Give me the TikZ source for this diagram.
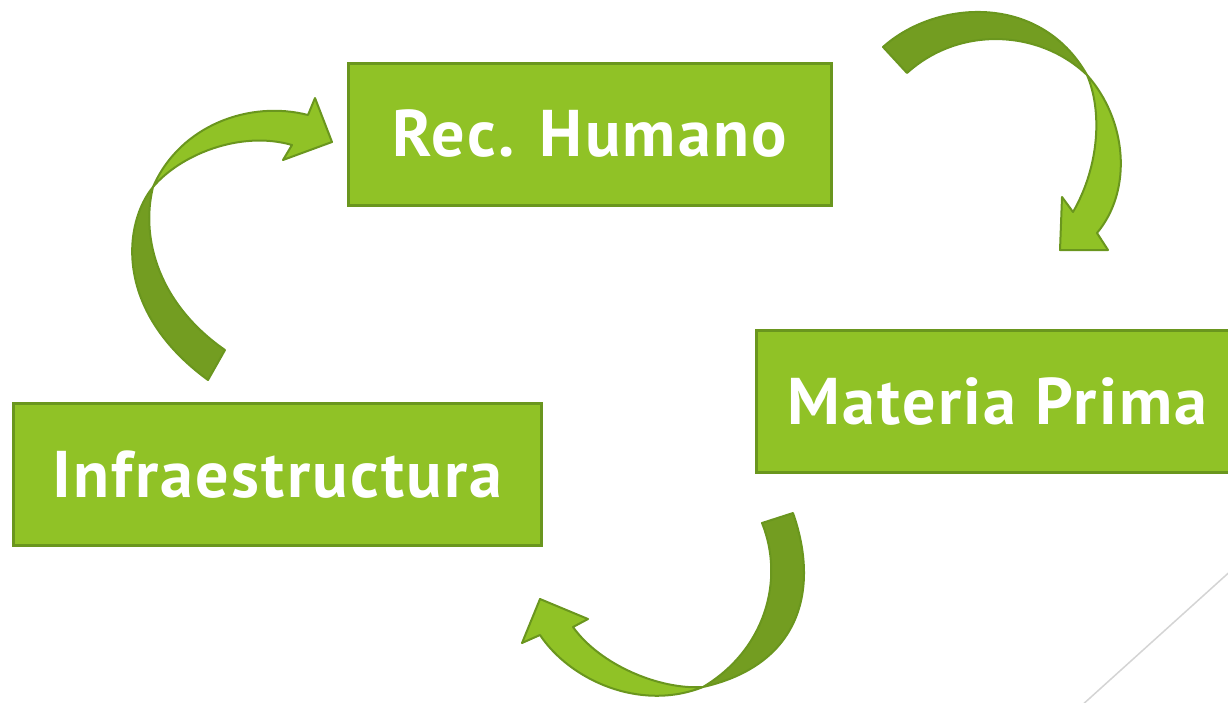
\documentclass[tikz,border=0pt]{standalone}
\usepackage{fontspec}
\setmainfont{PT Sans}[LetterSpace=3.5]
\usepackage{xcolor}
\usepackage{tikz}
\usetikzlibrary{positioning}

\definecolor{verdeclaro}{RGB}{144,194,38}
\definecolor{verdeoscuro}{RGB}{115,157,33}
\definecolor{verdeborde}{RGB}{106,150,30}
\definecolor{lineagris}{RGB}{212,212,212}

\begin{document}
\begin{tikzpicture}[x=1pt, y=-1pt,
  caja/.style={draw=verdeborde, line width=3pt, fill=verdeclaro, text=white,
    minimum height=142pt, inner sep=0pt, font=\fontsize{66}{70}\selectfont\bfseries},
  claro/.style={fill=verdeclaro, draw=verdeborde, line width=2pt, line join=round},
  oscuro/.style={fill=verdeoscuro, draw=verdeborde, line width=2pt, line join=round}]
\path[use as bounding box, clip] (0,0) rectangle (1228,702);
% Cajas
\node[caja, minimum width=483pt] (rec) at (590,134) {Rec. Humano};
\node[caja, minimum width=482pt] (materia) at (997.5,401.5) {Materia Prima};
\node[caja, minimum width=528pt] (infra) at (277.5,474.5) {Infraestructura};
% Flecha Infraestructura -> Rec. Humano
\filldraw[oscuro] (153,187) .. controls (124,222) and (112,310) .. (208,380)
  -- (225,350) .. controls (160,305) and (140,240) .. (153,187) -- cycle;
\filldraw[claro] (153,187) .. controls (180,125) and (250,100) .. (308,115)
  -- (315,98) -- (332,142) -- (283,160) -- (292,145)
  .. controls (240,130) and (180,155) .. (153,187) -- cycle;
% Flecha Rec. Humano -> Materia Prima
\filldraw[oscuro] (883,47) .. controls (935,0) and (1040,-8) .. (1087,75)
  .. controls (1040,30) and (960,25) .. (907,73) -- cycle;
\filldraw[claro] (1087,75) .. controls (1127,120) and (1133,190) .. (1097,233)
  -- (1108,250) -- (1060,250) -- (1062,197) -- (1073,212)
  .. controls (1100,165) and (1102,110) .. (1087,75) -- cycle;
% Flecha Materia Prima -> Infraestructura
\filldraw[claro] (703,687) .. controls (640,712) and (570,680) .. (540,635)
  -- (522,643) -- (540,599) -- (588,619) -- (573,627)
  .. controls (600,665) and (660,690) .. (703,687) -- cycle;
\filldraw[oscuro] (793,513) .. controls (820,590) and (800,665) .. (703,687)
  .. controls (765,650) and (785,580) .. (762,523) -- cycle;
% Linea decorativa
\draw[lineagris, line width=1.5pt] (1245,558) -- (1070,716);
\end{tikzpicture}
\end{document}
